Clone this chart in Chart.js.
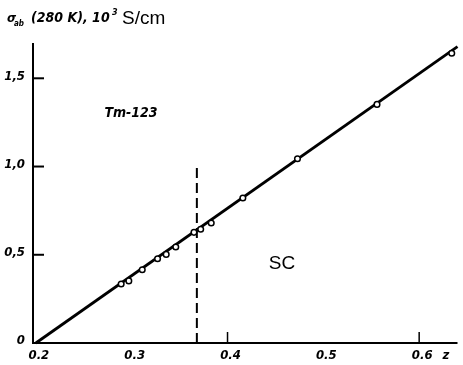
<!DOCTYPE html>
<html>
<head>
<meta charset="utf-8">
<script src="https://cdn.jsdelivr.net/npm/chart.js@4"></script>
<style>
  html, body { margin: 0; padding: 0; background: #fff; }
  #wrap { width: 463px; height: 365px; position: relative; }
</style>
</head>
<body>
<div id="wrap"><canvas id="chart"></canvas></div>
<script>
// measured points, z vs sigma_ab(280 K)
var zVals     = [0.289, 0.297, 0.311, 0.327, 0.336, 0.346, 0.365, 0.372, 0.383, 0.416, 0.473, 0.556, 0.634];
var sigmaVals = [0.334, 0.352, 0.415, 0.477, 0.502, 0.544, 0.627, 0.645, 0.680, 0.822, 1.044, 1.352, 1.642];

// fitted line ends
var fitZ     = [0.2, 0.64];
var fitSigma = [0.0, 1.68];

// dashed boundary
var boundZ     = [0.368, 0.368];
var boundSigma = [0.0, 1.01];

// axis labels
var xTickVals   = [0.2, 0.3, 0.4, 0.5, 0.6];
var xTickLabels = ['0.2', '0.3', '0.4', '0.5', '0.6'];
var xTickMarks  = [0.4, 0.6];
var yTickVals   = [0, 0.5, 1.0, 1.5];
var yTickLabels = ['0', '0,5', '1,0', '1,5'];
var yTickMarks  = [0.5, 1.0, 1.5];

function pairs(xs, ys) {
    return xs.map(function (x, i) { return {x: x, y: ys[i]}; });
}

var narrow = '"Liberation Sans Narrow", "DejaVu Sans Condensed", sans-serif';
var tickFont = 'bold italic 13px ' + narrow;

// axes, ticks and annotations
var axesPlugin = {
    id: 'axesPlugin',
    afterDraw: function (chart) {
        var c = chart.ctx, a = chart.chartArea;
        var xs = chart.scales.x, ys = chart.scales.y;
        c.save();
        c.strokeStyle = '#000';
        c.fillStyle = '#000';
        c.lineWidth = 2;
        c.beginPath();
        c.moveTo(a.left, a.top);
        c.lineTo(a.left, a.bottom);
        c.lineTo(a.right, a.bottom);
        c.stroke();

        c.lineWidth = 1.5;
        xTickMarks.forEach(function (v) {
            var px = xs.getPixelForValue(v);
            c.beginPath();
            c.moveTo(px, a.bottom);
            c.lineTo(px, a.bottom - 11);
            c.stroke();
        });
        c.lineWidth = 2;
        yTickMarks.forEach(function (v) {
            var py = ys.getPixelForValue(v);
            c.beginPath();
            c.moveTo(a.left, py);
            c.lineTo(a.left + 11, py);
            c.stroke();
        });

        c.font = tickFont;
        c.textBaseline = 'middle';
        c.textAlign = 'center';
        xTickVals.forEach(function (v, i) {
            c.fillText(xTickLabels[i], xs.getPixelForValue(v) + 3, a.bottom + 13);
        });
        c.fillText('z', 446, a.bottom + 13);
        c.textAlign = 'right';
        yTickVals.forEach(function (v, i) {
            c.fillText(yTickLabels[i], a.left - 8, ys.getPixelForValue(v) - 2);
        });

        // y title
        c.textAlign = 'left';
        c.textBaseline = 'alphabetic';
        c.font = 'bold italic 13px ' + narrow;
        c.fillText('\u03c3', 7, 22);
        c.font = 'bold italic 8px ' + narrow;
        c.fillText('ab', 14, 26);
        c.font = 'bold italic 14px ' + narrow;
        c.fillText('(280 K), 10', 31, 22);
        c.font = 'bold italic 9px ' + narrow;
        c.fillText('3', 112, 15);
        c.font = '19px "Liberation Sans", Arial, sans-serif';
        c.fillText('S/cm', 122, 24);

        c.font = 'bold italic 14px ' + narrow;
        c.textAlign = 'center';
        c.textBaseline = 'middle';
        c.fillText('Tm-123', 131, 113);
        c.font = '19px "Liberation Sans", Arial, sans-serif';
        c.fillText('SC', 282, 264);
        c.restore();
    }
};

var ctx = document.getElementById('chart').getContext('2d');
var chart = new Chart(ctx, {
    type: 'scatter',
    data: {
        datasets: [
            {
                label: 'fit',
                data: pairs(fitZ, fitSigma),
                showLine: true,
                borderColor: '#000',
                borderWidth: 2.8,
                pointRadius: 0,
                order: 2
            },
            {
                label: 'boundary',
                data: pairs(boundZ, boundSigma),
                showLine: true,
                borderColor: '#000',
                borderWidth: 2,
                borderDash: [10, 5],
                pointRadius: 0,
                order: 3
            },
            {
                label: 'Tm-123',
                data: pairs(zVals, sigmaVals),
                backgroundColor: '#fff',
                borderColor: '#000',
                borderWidth: 1.5,
                pointRadius: 2.8,
                order: 1
            }
        ]
    },
    options: {
        responsive: true,
        maintainAspectRatio: false,
        animation: false,
        clip: false,
        layout: { padding: { left: 33, top: 43, right: 0, bottom: 22 } },
        plugins: {
            legend: { display: false },
            title: { display: false },
            tooltip: { enabled: false }
        },
        scales: {
            x: { type: 'linear', min: 0.197, max: 0.64, display: false },
            y: { type: 'linear', min: 0, max: 1.7, display: false }
        }
    },
    plugins: [axesPlugin]
});
</script>
</body>
</html>
